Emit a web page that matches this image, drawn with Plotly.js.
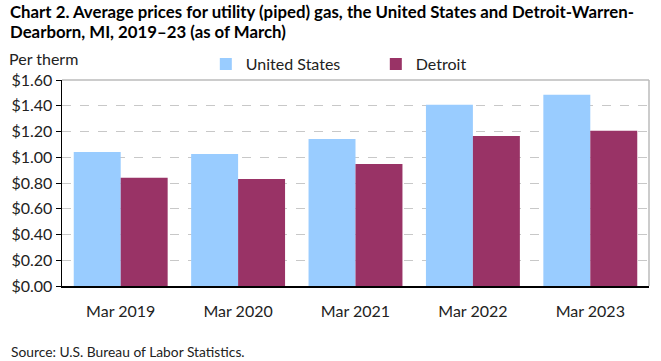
<!DOCTYPE html>
<html><head><meta charset="utf-8">
<script src="https://cdn.plot.ly/plotly-3.0.1.min.js"></script>
<style>html,body{margin:0;padding:0;background:#fff;}#chart{width:661px;height:361px;}</style>
</head><body><div id="chart"></div>
<script>
const categories = ["Mar 2019", "Mar 2020", "Mar 2021", "Mar 2022", "Mar 2023"];
const usValues = [1.041, 1.026, 1.142, 1.407, 1.485];
const detroitValues = [0.841, 0.831, 0.948, 1.166, 1.205];
const tickVals = [0, 0.2, 0.4, 0.6, 0.8, 1.0, 1.2, 1.4, 1.6];
const tickText = ["$0.00","$0.20","$0.40","$0.60","$0.80","$1.00","$1.20","$1.40","$1.60"];

const FONT = "Lato, 'Open Sans', sans-serif";
const PH = 206, BOT = 286;
function py(pix){ return (BOT - pix) / PH; }
const traces = [
  {type:"bar", name:"United States", x:categories, y:usValues, marker:{color:"#99CCFF"}},
  {type:"bar", name:"Detroit", x:categories, y:detroitValues, marker:{color:"#993366"}}
];
const layout = {
  width:661, height:361,
  margin:{l:62, r:12, t:80, b:75},
  paper_bgcolor:"#fff", plot_bgcolor:"#fff",
  font:{family:FONT, size:16, color:"#222"},
  barmode:"group", bargap:0.2, bargroupgap:0,
  showlegend:true,
  legend:{orientation:"h", x:0.245, xanchor:"left", y:py(64), yanchor:"middle",
          font:{family:FONT, size:16, color:"#222"}, itemwidth:30, bgcolor:"rgba(0,0,0,0)",
          entrywidth:125, entrywidthmode:"pixels", traceorder:"normal"},
  xaxis:{showgrid:false, showline:true, linecolor:"#000", linewidth:1.5, ticks:"",
         ticklabelstandoff:10,
         tickfont:{family:FONT, size:16, color:"#222"}, fixedrange:true},
  yaxis:{range:[0,1.6], tickvals:tickVals, ticktext:tickText, showgrid:true,
         gridcolor:"#c8c8c8", griddash:"dash", gridwidth:1, showline:true, linecolor:"#000",
         linewidth:1.5, ticks:"outside", ticklen:5, tickcolor:"#000",
         tickfont:{family:FONT, size:16, color:"#222"}, zeroline:false, fixedrange:true},
  shapes:[
    {type:"line", xref:"paper", yref:"paper", x0:0, x1:1, y0:1, y1:1, line:{color:"#bbb", width:1.5}},
    {type:"line", xref:"paper", yref:"paper", x0:1, x1:1, y0:0, y1:1, line:{color:"#bbb", width:1.5}}
  ],
  annotations:[
    {xref:"paper", yref:"paper", x:-0.092, y:py(12), xanchor:"left", yanchor:"middle", align:"left",
     showarrow:false, text:"<b>Chart 2. Average prices for utility (piped) gas, the United States and Detroit-Warren-</b>",
     font:{family:FONT, size:16.8, color:"#000"}},
    {xref:"paper", yref:"paper", x:-0.092, y:py(31), xanchor:"left", yanchor:"middle", align:"left",
     showarrow:false, text:"<b>Dearborn, MI, 2019–23 (as of March)</b>",
     font:{family:FONT, size:16.8, color:"#000"}},
    {xref:"paper", yref:"paper", x:-0.093, y:py(58), xanchor:"left", yanchor:"middle", showarrow:false,
     text:"Per therm", font:{family:FONT, size:16, color:"#222"}},
    {xref:"paper", yref:"paper", x:-0.09, y:py(351), xanchor:"left", yanchor:"middle", showarrow:false,
     text:"Source: U.S. Bureau of Labor Statistics.", font:{family:FONT, size:13.8, color:"#222"}}
  ]
};
Plotly.newPlot("chart", traces, layout, {displayModeBar:false, staticPlot:true});
</script></body></html>
